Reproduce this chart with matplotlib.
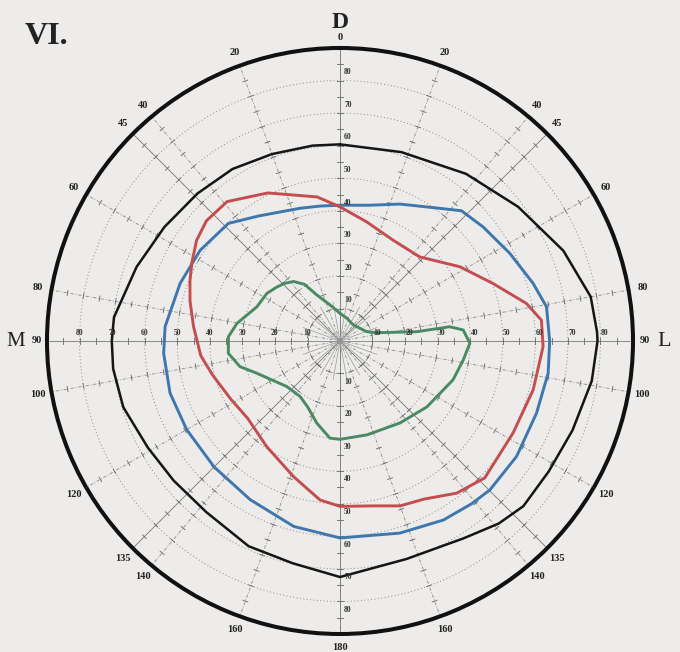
import numpy as np
import matplotlib.pyplot as plt

plt.rcParams['font.family'] = ['Liberation Serif', 'DejaVu Serif']

# isopters: meridian angle (deg, clockwise from D) and field extent (deg)
black_theta = [0, 18, 37, 53, 68, 80, 88, 90, 99, 111, 122, 132, 139, 148, 163, 180,
               192, 204, 218, 230, 241, 253, 263, 270, 276, 283, 290, 303, 316, 328, 340, 352, 360]
black_r = [60.4, 61.0, 64.3, 68.5, 74.0, 78.2, 79.0, 79.1, 78.3, 76.5, 75.6, 75.8, 74.3, 71.5, 70.0, 72.5,
           69.8, 69.0, 66.7, 66.7, 67.5, 69.6, 70.2, 70.1, 69.8, 67.6, 66.5, 64.3, 63.0, 62.3, 61.1, 60.6, 60.4]

blue_theta = [0, 12.4, 23.6, 36, 43, 51.4, 62.7, 73.4, 80.6, 90, 98.8, 110.2, 123.2, 134.8, 141, 150,
              162.7, 180, 194, 209.5, 225, 240, 253, 266, 274.7, 289.8, 303, 316.5, 327, 343, 351.6, 360]
blue_r = [41.7, 42.7, 45.9, 50.5, 54.7, 56.2, 58.7, 61.9, 64.3, 64.4, 64.7, 64.3, 64.8, 64.9, 64.3, 63.5,
          61.8, 60.5, 58.7, 56.0, 54.7, 54.4, 54.6, 54.3, 53.9, 52.2, 51.2, 49.8, 45.8, 42.6, 41.9, 41.7]

red_theta = [0, 12.6, 27.8, 43.5, 58.2, 69.4, 78.6, 84.1, 91.6, 104.2, 118, 133.4, 142.5, 152, 160, 169,
             180, 187.2, 199, 214.7, 230, 242, 255, 264, 275.6, 285, 292, 298, 305, 312, 321, 334, 351, 360]
red_r = [41.2, 37.5, 35.0, 35.6, 43.3, 50.2, 58.4, 62.2, 62.4, 61.2, 60.2, 61.2, 58.9, 55.0, 53.9, 51.6,
         50.8, 49.2, 44.0, 39.5, 37.0, 38.0, 40.5, 43.0, 45.2, 47.7, 49.7, 51.5, 53.8, 55.2, 55.1, 50.6, 44.8, 41.2]

green_theta = [0, 17, 39.8, 70.8, 77.2, 83.1, 82.6, 84.9, 91, 98.8, 109, 127.2, 143.8, 164, 180,
               185.9, 195.8, 206, 215.7, 229.4, 248.8, 255.6, 263.7, 272.2, 279.7, 292.4, 303, 310,
               316, 322, 328, 333, 344.5, 360]
green_r = [8.5, 7.3, 6.4, 8.7, 11.5, 23.7, 34.0, 38.0, 39.9, 38.3, 36.7, 33.5, 31.2, 30.0, 30.2,
           30.0, 26.2, 22.6, 21.0, 21.5, 27.4, 31.7, 34.5, 34.3, 32.1, 27.6, 26.8, 25.6,
           24.6, 23.2, 20.5, 16.0, 11.5, 8.5]

ring_values = [10, 20, 30, 40, 50, 60, 70, 80]
meridian_labels = [20, 40, 45, 60, 80, 100, 120, 135, 140, 160]

bg = '#edecea'
fig = plt.figure(figsize=(6.8, 6.52), dpi=100, facecolor=bg)
ax = fig.add_axes([0.0691, 0.0276, 0.8618, 0.8988], projection='polar')
ax.set_theta_zero_location('N')
ax.set_theta_direction(-1)
ax.set_rlim(0, 90)
ax.set_facecolor('none')
ax.grid(False)
ax.set_xticks([])
ax.set_yticks([])
ax.spines['polar'].set_linewidth(2.9)
ax.spines['polar'].set_color('#111111')

# dotted parallels
circ = np.linspace(0, 2 * np.pi, 400)
for v in ring_values:
    ax.plot(circ, np.full_like(circ, v), color='#8a8a8a', lw=0.7, ls=(0, (1, 2.5)))

# meridians: every 20 deg dash-dot, main axes and diagonals thin solid
for a in range(0, 360, 20):
    ax.plot([np.radians(a)] * 2, [0, 90], color='#8a8a8a', lw=0.6, ls=(0, (4, 2, 1, 2)))
for a in range(0, 360, 45):
    ax.plot([np.radians(a)] * 2, [0, 90], color='#777777', lw=0.6)
for a in range(10, 360, 20):
    ax.plot([np.radians(a)] * 2, [0, 12], color='#999999', lw=0.5)
spokes = sorted(set(list(range(0, 360, 20)) + list(range(0, 360, 45))))
for a in spokes:
    t = np.radians(a)
    for r in range(10, 90, 5):
        d = 0.8 / r
        ax.plot([t - d, t + d], [r, r], color='#666666', lw=0.6)

# isopters
kw = dict(solid_joinstyle='round', solid_capstyle='round')
ax.plot(np.radians(black_theta), black_r, color='#151515', lw=1.8, **kw)
ax.plot(np.radians(blue_theta), blue_r, color='#3d77ae', lw=2.1, **kw)
ax.plot(np.radians(red_theta), red_r, color='#c44d4f', lw=2.1, **kw)
ax.plot(np.radians(green_theta), green_r, color='#4a8a63', lw=2.1, **kw)

# scale numbers along the axes
lab = dict(fontsize=5.5, fontweight='bold', color='#333333', textcoords='offset points')
for v in ring_values:
    ax.annotate(str(v), xy=(np.radians(90), v), xytext=(3, 3), ha='center', va='bottom', **lab)
    ax.annotate(str(v), xy=(np.radians(270), v), xytext=(0, 3), ha='center', va='bottom', **lab)
    ax.annotate(str(v), xy=(0, v), xytext=(3, 3), ha='left', va='bottom', **lab)
    ax.annotate(str(v), xy=(np.pi, v), xytext=(3, -3), ha='left', va='top', **lab)

# meridian degrees round the rim
rim = dict(fontsize=7.5, fontweight='bold', color='#222222', ha='center', va='center')
for a in meridian_labels:
    ax.text(np.radians(a), 94.3, str(a), **rim)
    ax.text(np.radians(360 - a), 94.3, str(a), **rim)
ax.text(0, 93.3, '0', **rim)
ax.text(np.pi, 94.0, '180', **rim)
ax.text(np.radians(90), 93.6, '90', **rim)
ax.text(np.radians(270), 93.2, '90', **rim)

fig.text(340 / 680, 1 - 22 / 652, 'D', fontsize=17, fontweight='bold', ha='center', va='center',
         color='#222222')
fig.text(16 / 680, 1 - 341 / 652, 'M', fontsize=15, ha='center', va='center', color='#222222')
fig.text(664 / 680, 1 - 341 / 652, 'L', fontsize=16, ha='center', va='center', color='#222222')
fig.text(46 / 680, 1 - 36 / 652, 'VI.', fontsize=23, fontweight='bold', ha='center', va='center',
         color='#222222')

fig.savefig('out.png', dpi=100, facecolor=bg)
